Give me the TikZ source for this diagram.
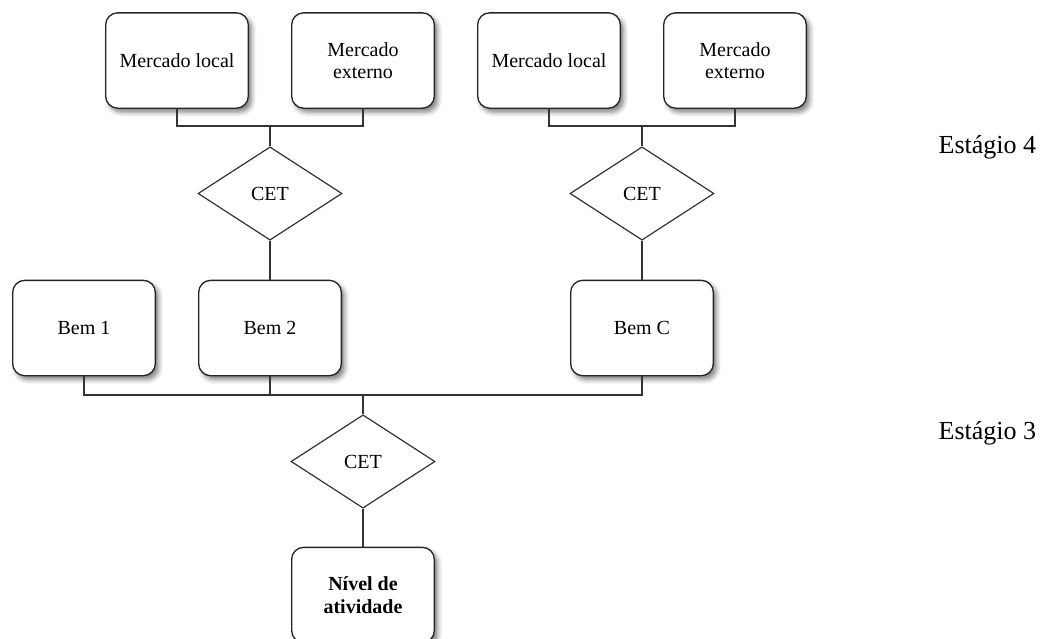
\documentclass[tikz,border=0pt]{standalone}
\usepackage{fontspec}
\setmainfont{Liberation Serif}
\usetikzlibrary{shapes.geometric,shadows.blur}
\definecolor{linegray}{HTML}{333333}
\tikzset{
  box/.style={draw=black!85, line width=1pt, rounded corners=9pt, fill=white,
    minimum width=107pt, minimum height=71.5pt, align=center, inner sep=2pt,
    font=\fontsize{15pt}{16.5pt}\selectfont,
    blur shadow={shadow xshift=2.5pt, shadow yshift=-3pt, shadow blur radius=3.5pt, shadow opacity=50}},
  dia/.style={diamond, draw=linegray, line width=0.9pt, fill=white, inner sep=0pt,
    minimum width=108pt, minimum height=70pt, aspect=1.55,
    font=\fontsize{15pt}{16.5pt}\selectfont},
  link/.style={draw=linegray, line width=1pt},
  stage/.style={font=\fontsize{19.5pt}{22pt}\selectfont, anchor=west}
}
\begin{document}
\begin{tikzpicture}[x=0.75pt, y=-0.75pt]
  \useasboundingbox (0,0) rectangle (1040,639);
  \clip (0,0) rectangle (1040,639);
  % Stage 4: market boxes
  \node[box] (m1) at (177,60.5) {Mercado local};
  \node[box] (m2) at (363,60.5) {Mercado\\externo};
  \node[box] (m3) at (549,60.5) {Mercado local};
  \node[box] (m4) at (735,60.5) {Mercado\\externo};
  % CET decisions for goods
  \node[dia] (d1) at (270,193.5) {CET};
  \node[dia] (d2) at (642,193.5) {CET};
  % goods
  \node[box] (b1) at (84,328) {Bem 1};
  \node[box] (b2) at (270,328) {Bem 2};
  \node[box] (bc) at (642,328) {Bem C};
  % Stage 3
  \node[dia] (d3) at (363,461.5) {CET};
  \node[box, font=\bfseries\fontsize{15pt}{17.5pt}\selectfont] (nv) at (363,595) {Nível de\\atividade};
  % junction points
  \coordinate (j1) at (270,126);
  \coordinate (j2) at (642,126);
  \coordinate (j3) at (363,395);
  % connectors
  \draw[link] (m1.south) |- (j1) -| (m2.south);
  \draw[link] (j1) -- (d1.north);
  \draw[link] (d1.south) -- (b2.north);
  \draw[link] (m3.south) |- (j2) -| (m4.south);
  \draw[link] (j2) -- (d2.north);
  \draw[link] (d2.south) -- (bc.north);
  \draw[link] (b1.south) |- (j3) -| (bc.south);
  \draw[link] (b2.south) -- (b2.south |- j3);
  \draw[link] (j3) -- (d3.north);
  \draw[link] (d3.south) -- (nv.north);
  % stage labels
  \node[stage] (s4) at (934,147) {Estágio 4};
  \node[stage] (s3) at (934,433) {Estágio 3};
\end{tikzpicture}
\end{document}
